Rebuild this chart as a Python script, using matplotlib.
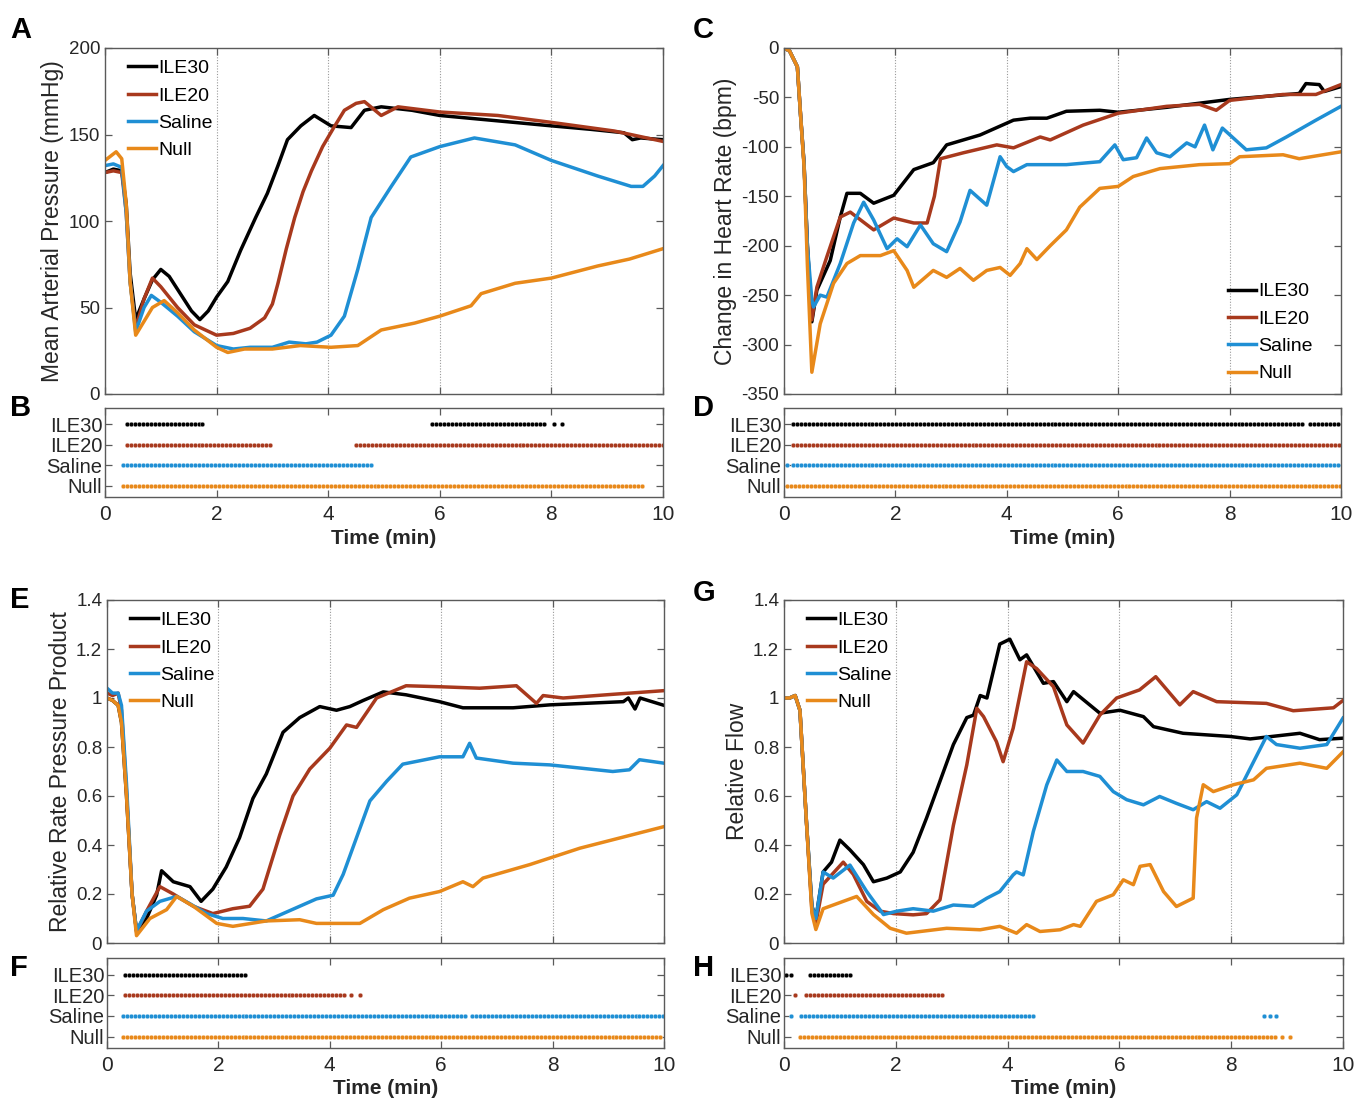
import numpy as np
import matplotlib.pyplot as plt
from matplotlib.ticker import FuncFormatter

plt.rcParams['font.family'] = ['Liberation Sans', 'DejaVu Sans']

groups = ['ILE30', 'ILE20', 'Saline', 'Null']
colors = ['#000000', '#a8391d', '#1f8fd4', '#e8891a']

# ---- A: mean arterial pressure (mmHg)
a_ile30_t = [0, 0.15, 0.3, 0.38, 0.45, 0.55, 0.7, 0.85, 1.0, 1.15, 1.35, 1.55, 1.7, 1.85, 2.0, 2.2, 2.43, 2.7, 2.91, 3.1, 3.27, 3.51, 3.75, 3.9, 4.05, 4.41, 4.65, 4.95, 5.5, 6.0, 7.0, 8.0, 8.7, 9.3, 9.45, 9.6, 10]
a_ile30 = [128, 130, 129, 110, 70, 43, 55, 66, 72, 68, 58, 48, 43, 48, 56, 65, 83, 102, 116, 132, 147, 155, 161, 158, 155, 154, 164, 166, 164, 161, 158, 155, 153, 151, 147, 148, 147]
a_ile20_t = [0, 0.15, 0.3, 0.38, 0.45, 0.55, 0.7, 0.85, 1.0, 1.3, 1.6, 2.0, 2.3, 2.6, 2.86, 3.0, 3.1, 3.25, 3.4, 3.55, 3.7, 3.9, 4.1, 4.29, 4.5, 4.65, 4.8, 4.95, 5.25, 6.0, 7.04, 8.0, 9.13, 10]
a_ile20 = [128, 129, 128, 105, 65, 38, 55, 67, 62, 50, 40, 34, 35, 38, 44, 52, 64, 84, 102, 117, 129, 143, 154, 164, 168, 169, 165, 161, 166, 163, 161, 157, 152, 146]
a_sal_t = [0, 0.15, 0.3, 0.38, 0.45, 0.55, 0.7, 0.83, 1.0, 1.3, 1.6, 2.0, 2.3, 2.6, 3.0, 3.3, 3.6, 3.8, 4.05, 4.29, 4.53, 4.77, 5.13, 5.48, 6.0, 6.62, 7.35, 8.0, 8.83, 9.43, 9.64, 9.85, 10]
a_sal = [132, 133, 131, 105, 65, 36, 50, 57, 53, 45, 36, 28, 26, 27, 27, 30, 29, 30, 34, 45, 72, 102, 120, 137, 143, 148, 144, 135, 126, 120, 120, 126, 132]
a_null_t = [0, 0.2, 0.3, 0.38, 0.45, 0.55, 0.7, 0.85, 1.06, 1.3, 1.6, 2.0, 2.2, 2.5, 3.0, 3.5, 4.05, 4.53, 4.95, 5.55, 6.0, 6.56, 6.74, 7.35, 8.0, 8.83, 9.4, 10]
a_null = [135, 140, 136, 110, 65, 34, 42, 50, 54, 47, 37, 27, 24, 26, 26, 28, 27, 28, 37, 41, 45, 51, 58, 64, 67, 74, 78, 84]

# ---- C: change in heart rate (bpm)
c_ile30_t = [0, 0.1, 0.24, 0.3, 0.36, 0.42, 0.5, 0.59, 0.83, 1.01, 1.13, 1.37, 1.61, 1.97, 2.33, 2.68, 2.92, 3.52, 4.12, 4.42, 4.72, 5.07, 5.67, 6.0, 6.87, 8.0, 9.25, 9.37, 9.61, 9.7, 10]
c_ile30 = [0, -3, -19, -70, -117, -200, -277, -245, -215, -171, -147, -147, -157, -149, -123, -116, -98, -88, -73, -71, -71, -64, -63, -65, -60, -52, -46, -36, -37, -44, -39]
c_ile20_t = [0, 0.1, 0.24, 0.3, 0.36, 0.42, 0.5, 0.59, 0.77, 1.01, 1.19, 1.61, 1.97, 2.33, 2.57, 2.7, 2.81, 3.22, 3.82, 4.12, 4.6, 4.78, 5.37, 6.0, 6.87, 7.46, 7.76, 8.0, 8.96, 9.55, 10]
c_ile20 = [0, -3, -19, -70, -117, -200, -275, -242, -211, -171, -166, -184, -172, -177, -177, -150, -112, -106, -98, -101, -90, -93, -78, -66, -59, -57, -63, -53, -47, -47, -37]
c_sal_t = [0, 0.1, 0.24, 0.3, 0.36, 0.42, 0.5, 0.53, 0.65, 0.77, 1.01, 1.25, 1.43, 1.61, 1.85, 2.03, 2.21, 2.45, 2.68, 2.92, 3.16, 3.34, 3.64, 3.88, 4.0, 4.12, 4.36, 5.07, 5.67, 5.94, 6.09, 6.33, 6.51, 6.69, 6.93, 7.23, 7.38, 7.55, 7.7, 7.87, 8.3, 8.66, 9.02, 9.55, 10]
c_sal = [0, -3, -19, -70, -117, -200, -255, -262, -250, -252, -218, -177, -156, -174, -203, -193, -201, -179, -198, -206, -176, -144, -159, -110, -120, -125, -118, -118, -115, -98, -113, -111, -91, -106, -110, -96, -100, -78, -103, -81, -103, -101, -90, -73, -59]
c_null_t = [0, 0.1, 0.24, 0.3, 0.36, 0.42, 0.5, 0.65, 0.89, 1.13, 1.37, 1.73, 1.97, 2.21, 2.33, 2.68, 2.92, 3.16, 3.4, 3.64, 3.88, 4.06, 4.24, 4.36, 4.54, 4.78, 5.07, 5.31, 5.67, 6.0, 6.27, 6.75, 7.46, 8.0, 8.18, 8.96, 9.25, 10]
c_null = [0, -3, -19, -70, -120, -220, -328, -279, -238, -218, -210, -210, -205, -225, -242, -225, -232, -223, -235, -225, -222, -230, -218, -203, -214, -200, -184, -161, -142, -140, -130, -122, -118, -117, -110, -108, -112, -105]

# ---- E: relative rate pressure product
e_ile30_t = [0, 0.1, 0.2, 0.26, 0.35, 0.45, 0.53, 0.71, 0.89, 0.98, 1.19, 1.49, 1.69, 1.9, 2.14, 2.38, 2.62, 2.86, 3.16, 3.46, 3.82, 4.12, 4.36, 4.6, 4.96, 5.37, 5.97, 6.39, 7.29, 7.95, 9.27, 9.36, 9.48, 9.57, 10]
e_ile30 = [1.0, 0.99, 0.97, 0.9, 0.6, 0.2, 0.05, 0.10, 0.195, 0.295, 0.25, 0.23, 0.17, 0.22, 0.31, 0.43, 0.59, 0.69, 0.86, 0.92, 0.965, 0.95, 0.965, 0.99, 1.025, 1.013, 0.985, 0.96, 0.96, 0.972, 0.985, 1.0, 0.955, 1.0, 0.97]
e_ile20_t = [0, 0.1, 0.2, 0.26, 0.35, 0.45, 0.53, 0.71, 0.95, 1.19, 1.55, 1.9, 2.26, 2.56, 2.8, 3.1, 3.34, 3.64, 4.0, 4.3, 4.48, 4.84, 5.37, 5.97, 6.69, 7.35, 7.71, 7.83, 8.19, 9.08, 10]
e_ile20 = [1.02, 1.01, 1.02, 0.95, 0.62, 0.2, 0.045, 0.13, 0.23, 0.2, 0.15, 0.12, 0.14, 0.15, 0.22, 0.44, 0.6, 0.71, 0.795, 0.89, 0.88, 1.0, 1.05, 1.046, 1.04, 1.05, 0.978, 1.01, 1.0, 1.015, 1.03]
e_sal_t = [0, 0.1, 0.2, 0.26, 0.35, 0.45, 0.53, 0.71, 0.95, 1.25, 1.49, 1.79, 2.08, 2.44, 2.86, 3.16, 3.46, 3.76, 4.06, 4.24, 4.48, 4.72, 5.02, 5.31, 5.97, 6.39, 6.51, 6.63, 7.29, 7.95, 9.08, 9.38, 9.56, 10]
e_sal = [1.04, 1.02, 1.02, 0.97, 0.65, 0.2, 0.05, 0.13, 0.17, 0.19, 0.16, 0.12, 0.1, 0.1, 0.09, 0.12, 0.15, 0.18, 0.195, 0.28, 0.43, 0.58, 0.66, 0.73, 0.76, 0.76, 0.815, 0.755, 0.734, 0.727, 0.7, 0.707, 0.748, 0.734]
e_null_t = [0, 0.1, 0.2, 0.26, 0.35, 0.45, 0.53, 0.77, 1.07, 1.25, 1.55, 1.97, 2.26, 2.86, 3.46, 3.76, 4.0, 4.54, 4.96, 5.43, 5.97, 6.39, 6.57, 6.75, 7.59, 8.49, 10]
e_null = [1.0, 0.99, 0.97, 0.9, 0.6, 0.2, 0.03, 0.1, 0.136, 0.19, 0.15, 0.08, 0.068, 0.09, 0.095, 0.08, 0.08, 0.08, 0.136, 0.183, 0.21, 0.25, 0.23, 0.265, 0.32, 0.387, 0.475]

# ---- G: relative flow
g_ile30_t = [0, 0.1, 0.2, 0.285, 0.4, 0.5, 0.57, 0.7, 0.85, 1.0, 1.18, 1.42, 1.6, 1.84, 2.08, 2.31, 2.55, 2.79, 3.03, 3.27, 3.39, 3.51, 3.63, 3.86, 4.04, 4.22, 4.34, 4.64, 4.82, 5.06, 5.18, 5.65, 6.01, 6.43, 6.61, 7.14, 7.98, 8.34, 9.23, 9.58, 10]
g_ile30 = [1.0, 1.0, 1.01, 0.95, 0.5, 0.15, 0.1, 0.29, 0.33, 0.42, 0.38, 0.32, 0.25, 0.265, 0.29, 0.37, 0.51, 0.66, 0.81, 0.92, 0.93, 1.01, 1.0, 1.22, 1.24, 1.156, 1.176, 1.06, 1.067, 0.985, 1.026, 0.938, 0.95, 0.924, 0.883, 0.856, 0.843, 0.833, 0.856, 0.83, 0.836]
g_ile20_t = [0, 0.1, 0.2, 0.285, 0.4, 0.5, 0.57, 0.7, 1.06, 1.24, 1.48, 1.72, 1.96, 2.31, 2.55, 2.79, 3.03, 3.27, 3.45, 3.57, 3.8, 3.92, 4.1, 4.34, 4.52, 4.82, 5.06, 5.35, 5.65, 5.95, 6.36, 6.65, 7.08, 7.32, 7.74, 8.63, 9.11, 9.83, 10]
g_ile20 = [1.0, 1.0, 1.01, 0.95, 0.5, 0.13, 0.08, 0.24, 0.33, 0.28, 0.17, 0.13, 0.12, 0.115, 0.12, 0.176, 0.48, 0.727, 0.958, 0.924, 0.822, 0.74, 0.877, 1.148, 1.12, 1.046, 0.89, 0.816, 0.93, 1.0, 1.033, 1.087, 0.972, 1.026, 0.985, 0.978, 0.948, 0.96, 0.99]
g_sal_t = [0, 0.1, 0.2, 0.285, 0.4, 0.5, 0.57, 0.7, 0.88, 1.18, 1.48, 1.78, 2.02, 2.31, 2.67, 3.03, 3.39, 3.63, 3.86, 4.1, 4.16, 4.28, 4.46, 4.7, 4.88, 5.06, 5.35, 5.65, 5.89, 6.13, 6.43, 6.72, 7.02, 7.32, 7.56, 7.8, 8.1, 8.63, 8.81, 9.23, 9.71, 10]
g_sal = [1.0, 1.0, 1.01, 0.95, 0.5, 0.15, 0.1, 0.29, 0.265, 0.318, 0.21, 0.116, 0.13, 0.14, 0.13, 0.155, 0.15, 0.183, 0.21, 0.278, 0.29, 0.278, 0.455, 0.645, 0.747, 0.70, 0.70, 0.68, 0.618, 0.585, 0.564, 0.598, 0.57, 0.544, 0.577, 0.55, 0.605, 0.843, 0.81, 0.795, 0.81, 0.918]
g_null_t = [0, 0.1, 0.2, 0.285, 0.4, 0.5, 0.57, 0.7, 1.06, 1.3, 1.6, 1.9, 2.19, 2.91, 3.51, 3.86, 4.16, 4.34, 4.58, 4.94, 5.18, 5.3, 5.59, 5.89, 6.07, 6.25, 6.37, 6.55, 6.79, 7.02, 7.32, 7.38, 7.5, 7.68, 8.04, 8.4, 8.63, 9.23, 9.71, 10]
g_null = [1.0, 1.0, 1.01, 0.95, 0.5, 0.12, 0.055, 0.14, 0.17, 0.19, 0.116, 0.06, 0.04, 0.06, 0.054, 0.068, 0.04, 0.075, 0.047, 0.054, 0.075, 0.068, 0.17, 0.197, 0.258, 0.238, 0.313, 0.32, 0.21, 0.149, 0.183, 0.51, 0.646, 0.618, 0.646, 0.666, 0.713, 0.734, 0.713, 0.78]

# ---- significance strips: (start, end) intervals in min, per group
b_ile30 = [(0.39, 1.75), (5.86, 7.92), (8.04, 8.04), (8.19, 8.19)]
b_ile20 = [(0.39, 3.03), (4.5, 10)]
b_sal = [(0.33, 4.79)]
b_null = [(0.33, 9.63)]

d_ile30 = [(0.16, 9.33), (9.45, 10)]
d_ile20 = [(0.17, 10)]
d_sal = [(0.06, 0.06), (0.16, 10)]
d_null = [(0.06, 10)]

f_ile30 = [(0.33, 2.51)]
f_ile20 = [(0.33, 4.28), (4.38, 4.38), (4.55, 4.55)]
f_sal = [(0.29, 6.48), (6.56, 10)]
f_null = [(0.29, 10)]

h_ile30 = [(0.04, 0.04), (0.12, 0.12), (0.47, 1.2)]
h_ile20 = [(0.19, 0.19), (0.39, 2.85)]
h_sal = [(0.12, 0.12), (0.31, 4.46), (8.59, 8.59), (8.7, 8.7), (8.81, 8.81)]
h_null = [(0.29, 8.8), (8.91, 8.91), (9.05, 9.05)]

dot_step = 1 / 14  # spacing between significance markers (min)

W, H = 1355, 1102
fig = plt.figure(figsize=(W / 100, H / 100), dpi=100)

def box(l, t, r, b):
    return fig.add_axes([l / W, 1 - b / H, (r - l) / W, (b - t) / H])

spine_c = '#5a5a5a'
txt_c = '#262626'

def style(ax):
    for s in ax.spines.values():
        s.set_color(spine_c)
        s.set_linewidth(1.0)
    ax.tick_params(direction='in', length=5, width=0.9, color=spine_c,
                   labelsize=13.5, labelcolor=txt_c, top=True, right=True)

def main_panel(ax, series, ylim, yticks, ylabel, fmt, legend_loc, legend_anchor):
    for (t, v), c, g in zip(series, colors, groups):
        ax.plot(t, v, color=c, lw=2.5, label=g, solid_joinstyle='round')
    ax.set_xlim(0, 10)
    ax.set_ylim(*ylim)
    ax.set_xticks([0, 2, 4, 6, 8, 10])
    ax.set_xticklabels([])
    ax.set_yticks(yticks)
    ax.yaxis.set_major_formatter(FuncFormatter(fmt))
    for x in [2, 4, 6, 8]:
        ax.axvline(x, color='#9a9a9a', lw=0.8, ls=(0, (1, 1.5)), zorder=0)
    ax.set_ylabel(ylabel, fontsize=16.5, color=txt_c, labelpad=3)
    style(ax)
    ax.legend(loc=legend_loc, bbox_to_anchor=legend_anchor, frameon=False,
              fontsize=14, handlelength=1.45, handletextpad=0.1,
              labelspacing=0.5, borderaxespad=0.2)

def strip_panel(ax, intervals):
    for k, (ivs, c) in enumerate(zip(intervals, colors)):
        y = 4 - k
        for a, b in ivs:
            ts = np.arange(a, b + 1e-6, dot_step)
            ax.plot(ts, np.full(len(ts), y), 'o', ms=3.4, color=c, mec='white', mew=0.25)
    ax.set_xlim(0, 10)
    ax.set_ylim(0.45, 4.8)
    ax.set_xticks([0, 2, 4, 6, 8, 10])
    ax.set_yticks([4, 3, 2, 1])
    ax.set_yticklabels(groups)
    style(ax)
    ax.tick_params(axis='x', labelsize=15, pad=6)
    ax.tick_params(axis='y', labelsize=14.5, pad=2)
    ax.set_xlabel('Time (min)', fontsize=15, fontweight='bold', color=txt_c, labelpad=3)

fmt_int = lambda v, p: '%d' % v
fmt_g = lambda v, p: '%g' % round(v, 2)

axA = box(105, 48, 663, 394)
main_panel(axA, [(a_ile30_t, a_ile30), (a_ile20_t, a_ile20), (a_sal_t, a_sal), (a_null_t, a_null)],
           (0, 200), [0, 50, 100, 150, 200], 'Mean Arterial Pressure (mmHg)', fmt_int,
           'upper left', (0.02, 1.0))
axB = box(105, 408, 663, 497)
strip_panel(axB, [b_ile30, b_ile20, b_sal, b_null])

axC = box(784, 48, 1341, 394)
main_panel(axC, [(c_ile30_t, c_ile30), (c_ile20_t, c_ile20), (c_sal_t, c_sal), (c_null_t, c_null)],
           (-350, 0), list(range(-350, 1, 50)), 'Change in Heart Rate (bpm)', fmt_int,
           'lower right', (0.97, 0.0))
axD = box(784, 408, 1341, 497)
strip_panel(axD, [d_ile30, d_ile20, d_sal, d_null])

axE = box(107, 600, 664, 943)
main_panel(axE, [(e_ile30_t, e_ile30), (e_ile20_t, e_ile20), (e_sal_t, e_sal), (e_null_t, e_null)],
           (0, 1.4), [0, 0.2, 0.4, 0.6, 0.8, 1.0, 1.2, 1.4], 'Relative Rate Pressure Product', fmt_g,
           'upper left', (0.02, 1.0))
axF = box(107, 958, 664, 1048)
strip_panel(axF, [f_ile30, f_ile20, f_sal, f_null])

axG = box(784, 600, 1343, 943)
main_panel(axG, [(g_ile30_t, g_ile30), (g_ile20_t, g_ile20), (g_sal_t, g_sal), (g_null_t, g_null)],
           (0, 1.4), [0, 0.2, 0.4, 0.6, 0.8, 1.0, 1.2, 1.4], 'Relative Flow', fmt_g,
           'upper left', (0.02, 1.0))
axH = box(784, 958, 1343, 1048)
strip_panel(axH, [h_ile30, h_ile20, h_sal, h_null])

letters = [('A', 10, 30), ('B', 10, 408), ('C', 693, 30), ('D', 693, 408),
           ('E', 10, 600), ('F', 10, 968), ('G', 693, 593), ('H', 693, 968)]
for s, x, y in letters:
    fig.text(x / W, 1 - y / H, s, fontsize=21, fontweight='bold', va='center', ha='left')

fig.savefig('out.png', dpi=100)
